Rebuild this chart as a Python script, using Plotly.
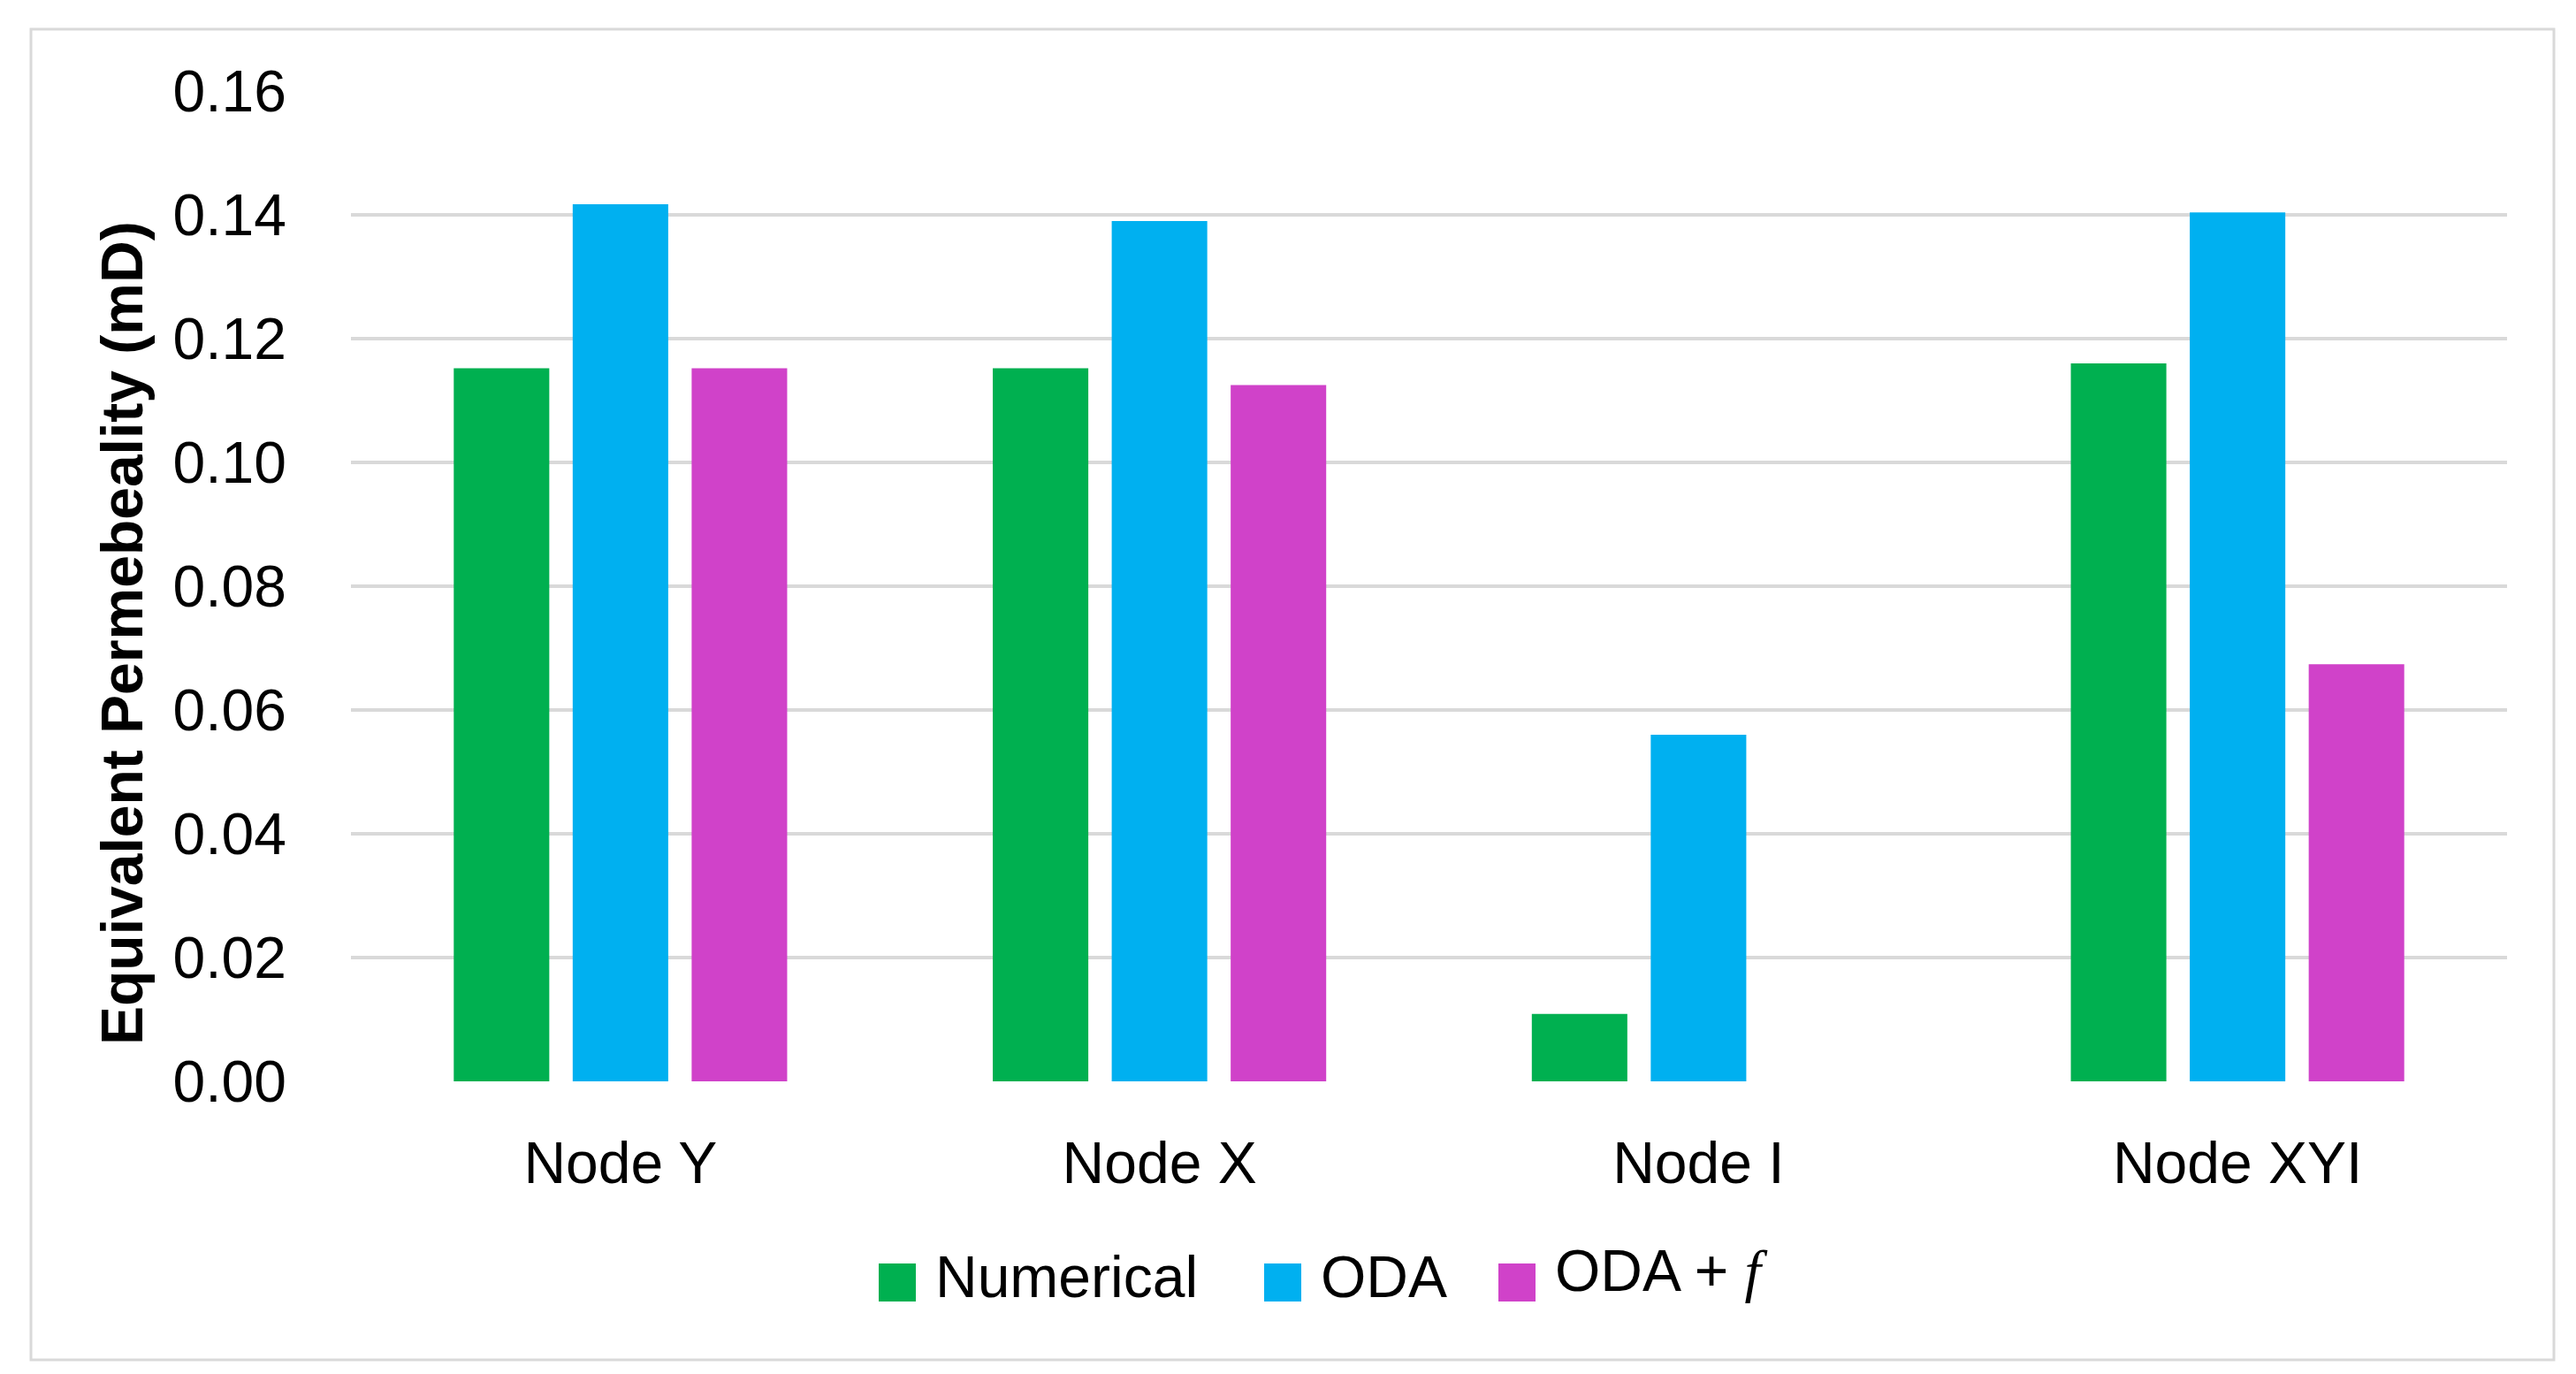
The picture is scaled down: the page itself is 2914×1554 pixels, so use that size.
import plotly.graph_objects as go

# ---- data ----
categories = ["Node Y", "Node X", "Node I", "Node XYI"]
numerical = [0.1152, 0.1152, 0.0109, 0.1160]
oda = [0.1417, 0.1390, 0.0560, 0.1404]
oda_f = [0.1152, 0.1125, None, 0.0674]
series_names = ["Numerical", "ODA", "ODA + f"]
legend_labels = ["Numerical", "ODA",
                 "ODA + <span style=\"font-family:'Liberation Serif', serif\"><i>f</i></span>"]
series_colors = ["#00B050", "#00B0F0", "#D042C9"]
y_tick_vals = [0.00, 0.02, 0.04, 0.06, 0.08, 0.10, 0.12, 0.14, 0.16]
y_tick_text = ["0.00", "0.02", "0.04", "0.06", "0.08", "0.10", "0.12", "0.14", "0.16"]
y_title = "Equivalent Permebeality (mD)"

# ---- layout geometry (pixels) ----
W, H = 2914, 1554
PL, PR, PT, PB = 389, 2828, 95, 1215
FONT = "Liberation Sans, Arial, sans-serif"
GRID = "#D9D9D9"


def px2x(px):
    return (px - PL) / (PR - PL)


def py2y(py):
    return (PB - py) / (PB - PT)


fig = go.Figure()
for name, vals, col in zip(series_names, [numerical, oda, oda_f], series_colors):
    fig.add_trace(go.Bar(x=categories, y=vals, name=name,
                         marker=dict(color=col, line=dict(width=0)), showlegend=False))

# manual legend (large swatches like the original)
legend_sw_x = [986, 1422, 1687]
legend_txt_dy = [0, 0, -7]
shapes = [dict(type="rect", xref="paper", yref="paper", x0=px2x(27), x1=px2x(2881),
               y0=py2y(1530), y1=py2y(25), line=dict(color=GRID, width=3), layer="below")]
annotations = []
for sx, dy, lab, col in zip(legend_sw_x, legend_txt_dy, legend_labels, series_colors):
    shapes.append(dict(type="rect", xref="paper", yref="paper", x0=px2x(sx), x1=px2x(sx + 42),
                       y0=py2y(1464), y1=py2y(1421), fillcolor=col, line=dict(width=0)))
    annotations.append(dict(xref="paper", yref="paper", x=px2x(sx + 62), y=py2y(1436 + dy),
                            xanchor="left", yanchor="middle", text=lab, showarrow=False,
                            font=dict(family=FONT, size=66, color="#000000")))

annotations.append(dict(xref="paper", yref="paper", x=px2x(130), y=py2y(708), textangle=-90,
                        xanchor="center", yanchor="middle", text="<b>" + y_title + "</b>",
                        showarrow=False, font=dict(family=FONT, size=66, color="#000000")))

fig.update_layout(
    width=W, height=H,
    margin=dict(l=PL, r=W - PR, t=PT, b=H - PB, pad=0),
    paper_bgcolor="white", plot_bgcolor="white",
    bargap=0.338, bargroupgap=0.197, barmode="group",
    shapes=shapes, annotations=annotations,
    font=dict(family=FONT, size=66, color="#000000"),
)
fig.update_xaxes(showgrid=False, showline=False, zeroline=False, ticks="", automargin=False,
                 tickfont=dict(family=FONT, size=66, color="#000000"), ticklabelstandoff=48)
fig.update_yaxes(range=[0, 0.16], tickvals=y_tick_vals, ticktext=y_tick_text, automargin=False,
                 showgrid=True, gridcolor=GRID, gridwidth=3.5, zeroline=False, showline=False,
                 ticks="", tickfont=dict(family=FONT, size=66, color="#000000"),
                 ticklabelstandoff=72)

fig.write_html("out.html")
